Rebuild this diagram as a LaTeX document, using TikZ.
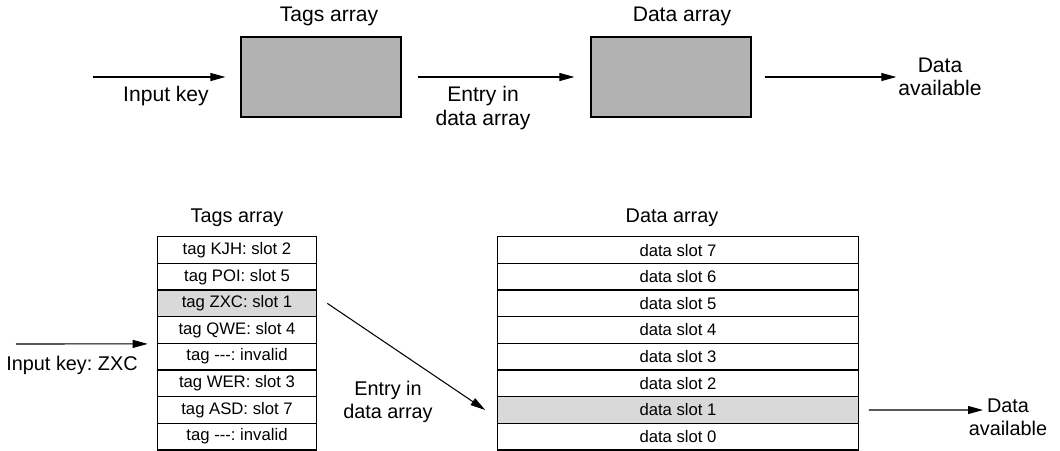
\documentclass[tikz,border=0pt]{standalone}
\usepackage{fontspec}
\setmainfont{Liberation Sans}
\usepackage{tikz}
\usetikzlibrary{arrows.meta,positioning}
\newcommand{\nodash}{\mbox{-}\mbox{-}\mbox{-}}
\frenchspacing

\begin{document}
\begin{tikzpicture}[x=0.02cm,y=-0.02cm,
  lbl/.style={font=\fontsize{12}{13.2}\selectfont,align=center,inner sep=1pt},
  lbs/.style={font=\fontsize{11.3}{13}\selectfont,align=center,inner sep=1pt},
  blk/.style={draw,line width=0.7pt,fill=black!30,minimum width=3.2cm,minimum height=1.6cm},
  cell/.style={draw,line width=0.65pt,minimum height=0.533cm,inner sep=0pt,font=\fontsize{9.5}{11}\selectfont},
  hl/.style={fill=black!15},
  ar/.style={-{Triangle[length=3mm,width=1.6mm]},line width=0.6pt}]
 \useasboundingbox (0,0) rectangle (1060,450);
 % overview
 \node[blk] (tags) at (321,77) {};
 \node[blk] (data) at (671,77) {};
 \node[lbl] (tagsT) at (329,16) {Tags array};
 \node[lbl] (dataT) at (682,16) {Data array};
 \node[lbl] (keyT) at (166,96) {Input key};
 \node[lbl] (entT) at (483,108) {Entry in\\data array};
 \node[lbl] (availT) at (940,77) {Data\\available};
 \coordinate (inA) at (93,77);
 \draw[ar] (inA) -- ([xshift=-0.3cm]tags.west);
 \draw[ar] ([xshift=0.32cm]tags.east) -- ([xshift=-0.32cm]data.west);
 \draw[ar] ([xshift=0.26cm]data.east) -- (availT.west |- data.east);
 % detailed view
 \node[lbs] (tagsB) at (237,218) {Tags array};
 \node[lbs] (dataB) at (672,218) {Data array};
 \foreach \txt/\sty [count=\i] in {tag KJH: slot 2/, tag POI: slot 5/, tag ZXC: slot 1/hl,
   tag QWE: slot 4/, tag \nodash: invalid/, tag WER: slot 3/, tag ASD: slot 7/, tag \nodash: invalid/}
   \node[cell,minimum width=3.19cm,\sty] (t\i) at (237,236.7+26.66*\i-13.33) {\txt};
 \foreach \k [count=\i] in {7,...,0}
   \node[cell,minimum width=7.21cm] (d\k) at (678,236.7+26.66*\i-13.33) {data slot \k};
 \node[cell,minimum width=7.21cm,hl] (d1) at (d1) {data slot 1};
 \node[lbs] (keyB) at (72,365) {Input key: ZXC};
 \node[lbs] (entB) at (388,402) {Entry in\\data array};
 \node[lbs] (availB) at (1008,417) {Data\\available};
 \coordinate (inB) at (16,344);
 \coordinate (outB) at (983,410);
 \draw[ar] (inB) -- ([xshift=-0.18cm]t4.south west);
 \draw[ar] ([xshift=0.2cm]t3.east) -- ([xshift=-0.24cm]d1.west);
 \draw[ar] ([xshift=0.2cm]d1.east) -- (outB);
\end{tikzpicture}
\end{document}
